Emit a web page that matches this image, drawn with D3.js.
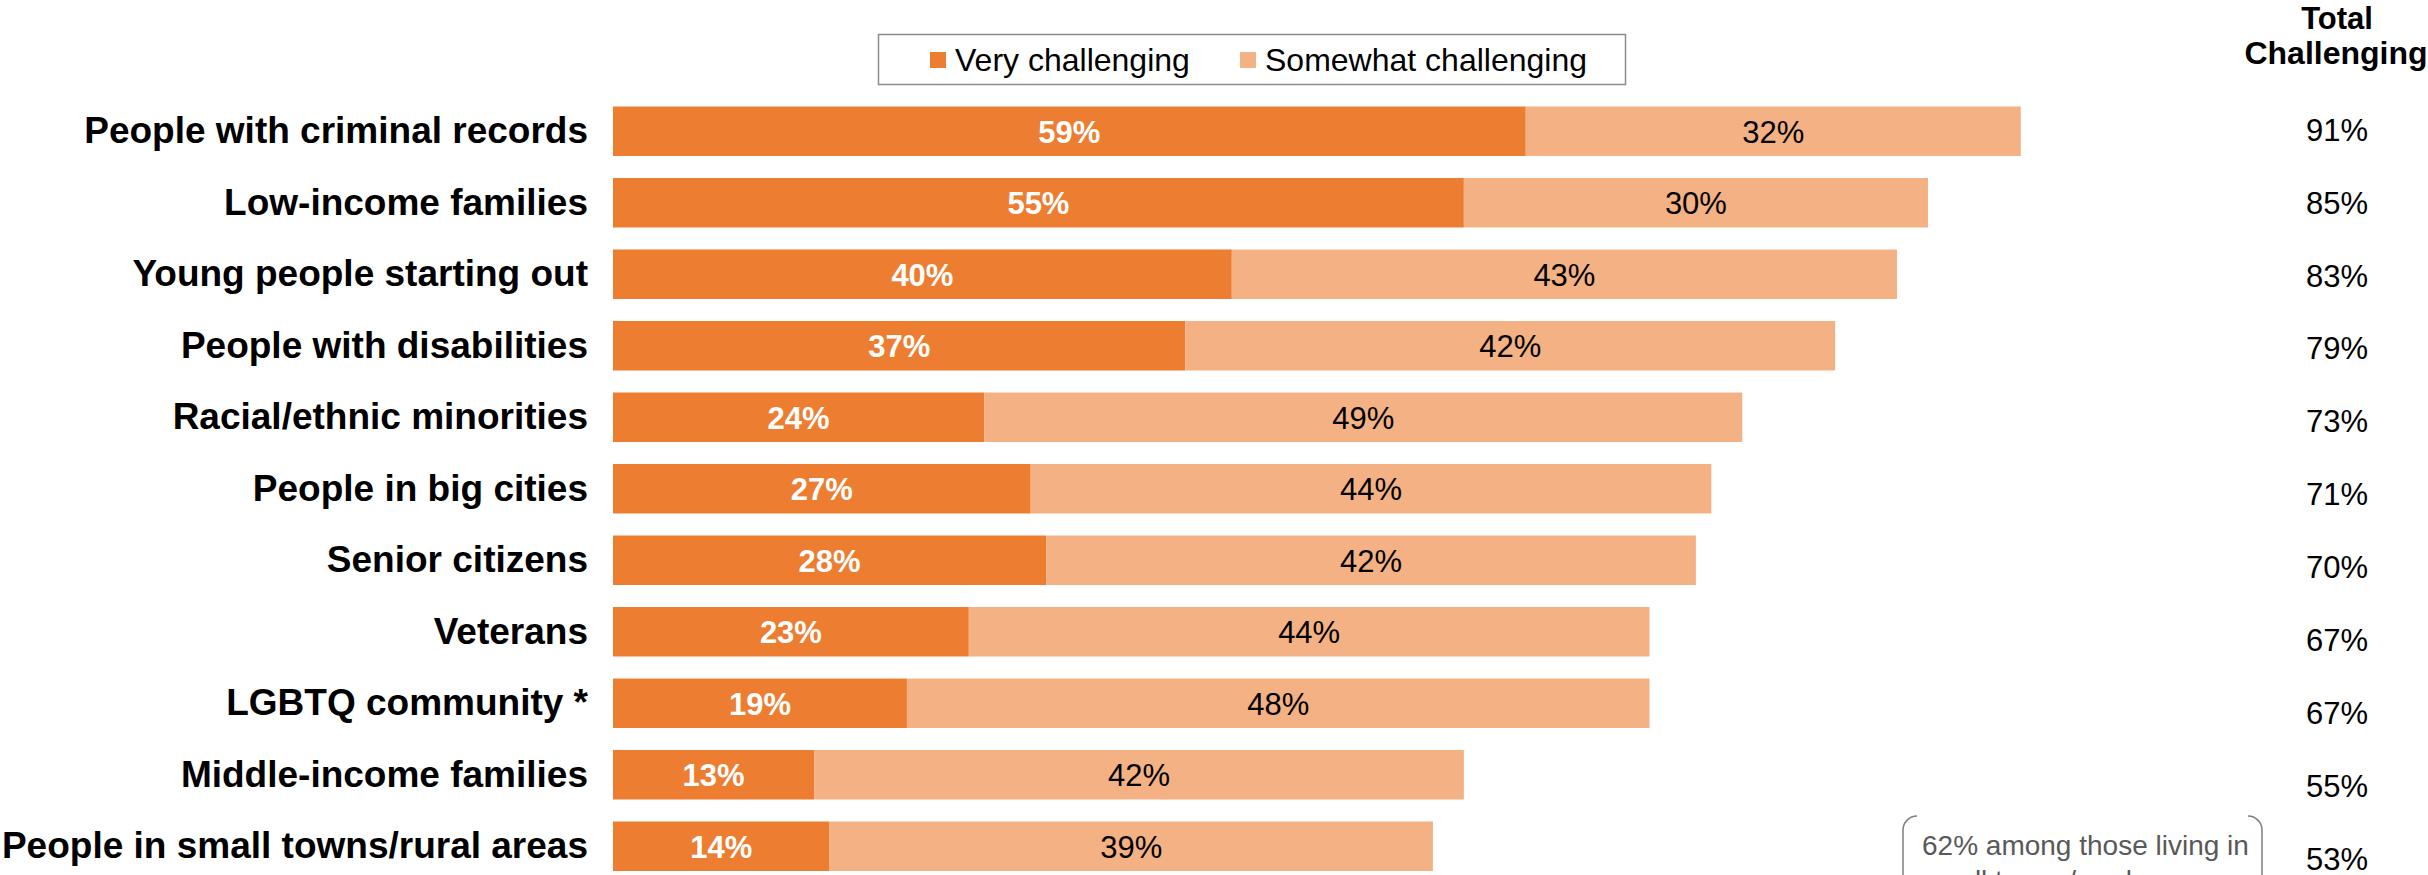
<!DOCTYPE html>
<html>
<head>
<meta charset="utf-8">
<script src="https://cdn.jsdelivr.net/npm/d3@7"></script>
<style>
    body { margin: 0; background: #ffffff; }
    svg { display: block; font-family: Arial, "Liberation Sans", sans-serif; }
</style>
</head>
<body>
<svg id="vis" width="2428" height="875"></svg>
<script>
// data
let categories = [
    "People with criminal records",
    "Low-income families",
    "Young people starting out",
    "People with disabilities",
    "Racial/ethnic minorities",
    "People in big cities",
    "Senior citizens",
    "Veterans",
    "LGBTQ community *",
    "Middle-income families",
    "People in small towns/rural areas"
];
let veryValues     = [59, 55, 40, 37, 24, 27, 28, 23, 19, 13, 14];
let somewhatValues = [32, 30, 43, 42, 49, 44, 42, 44, 48, 42, 39];
let totalLabels    = ["91%", "85%", "83%", "79%", "73%", "71%", "70%", "67%", "67%", "55%", "53%"];
let seriesNames    = ["Very challenging", "Somewhat challenging"];
let noteLines      = ["62% among those living in", "small towns/rural areas"];

let colors = ["#ED7D31", "#F4B183"];

let drawChart = function() {
    let svg = d3.select("svg#vis");

    let rows = categories.map(function(c, i) {
        return { key: c, very: veryValues[i], somewhat: somewhatValues[i], total: totalLabels[i] };
    });

    // scales
    let xScale = d3.scaleLinear()
        .domain([0, 100])
        .range([613, 2160]);

    let yScale = d3.scaleBand()
        .domain(categories)
        .range([106.5, 871])
        .paddingInner(0.308)
        .paddingOuter(0);

    // the total column sits on slightly wider spacing than the bars
    let totalScale = d3.scalePoint()
        .domain(categories)
        .range([129.7, 858.7]);

    let plot = svg.append("g").attr("id", "plot");

    // very challenging segment
    plot.selectAll("rect.very")
        .data(rows)
        .enter().append("rect")
        .attr("class", "very")
        .attr("x", xScale(0))
        .attr("y", d => yScale(d.key))
        .attr("width", d => xScale(d.very) - xScale(0))
        .attr("height", yScale.bandwidth())
        .attr("fill", colors[0]);

    // somewhat challenging segment
    plot.selectAll("rect.somewhat")
        .data(rows)
        .enter().append("rect")
        .attr("class", "somewhat")
        .attr("x", d => xScale(d.very))
        .attr("y", d => yScale(d.key))
        .attr("width", d => xScale(d.very + d.somewhat) - xScale(d.very))
        .attr("height", yScale.bandwidth())
        .attr("fill", colors[1]);

    // labels inside bars
    plot.selectAll("text.very-label")
        .data(rows)
        .enter().append("text")
        .attr("class", "very-label")
        .attr("x", d => xScale(d.very / 2))
        .attr("y", d => yScale(d.key) + yScale.bandwidth() / 2 + 11.5)
        .attr("text-anchor", "middle")
        .style("font-size", "31px")
        .style("font-weight", "bold")
        .style("fill", "#ffffff")
        .text(d => d.very + "%");

    plot.selectAll("text.somewhat-label")
        .data(rows)
        .enter().append("text")
        .attr("class", "somewhat-label")
        .attr("x", d => xScale(d.very + d.somewhat / 2))
        .attr("y", d => yScale(d.key) + yScale.bandwidth() / 2 + 11.5)
        .attr("text-anchor", "middle")
        .style("font-size", "31px")
        .style("fill", "#000000")
        .text(d => d.somewhat + "%");

    // category axis, no line or ticks
    let yAxis = d3.axisLeft(yScale).tickSize(0).tickPadding(25);
    let yGroup = plot.append("g")
        .attr("id", "y-axis")
        .attr("transform", "translate(613,0)")
        .call(yAxis);
    yGroup.select(".domain").remove();
    yGroup.selectAll("text")
        .attr("dy", null)
        .attr("y", 12)
        .style("font-family", "Arial, 'Liberation Sans', sans-serif")
        .style("font-size", "37px")
        .style("font-weight", "bold")
        .style("fill", "#000000");

    // total challenging column
    svg.append("text")
        .attr("x", 2337)
        .attr("y", 29)
        .attr("text-anchor", "middle")
        .style("font-size", "31px")
        .style("font-weight", "bold")
        .text("Total");
    svg.append("text")
        .attr("x", 2336)
        .attr("y", 64)
        .attr("text-anchor", "middle")
        .style("font-size", "32px")
        .style("font-weight", "bold")
        .text("Challenging");

    svg.selectAll("text.total")
        .data(rows)
        .enter().append("text")
        .attr("class", "total")
        .attr("x", 2337)
        .attr("y", d => totalScale(d.key) + 11)
        .attr("text-anchor", "middle")
        .style("font-size", "31px")
        .style("fill", "#000000")
        .text(d => d.total);

    // legend
    let legend = svg.append("g").attr("id", "legend");
    legend.append("rect")
        .attr("x", 878.5)
        .attr("y", 34.5)
        .attr("width", 747)
        .attr("height", 50)
        .attr("fill", "#ffffff")
        .attr("stroke", "#8c8c8c")
        .attr("stroke-width", 1.5);

    let legendX = [930, 1240];
    seriesNames.forEach(function(name, i) {
        legend.append("rect")
            .attr("x", legendX[i])
            .attr("y", 52)
            .attr("width", 16)
            .attr("height", 16)
            .attr("fill", colors[i]);
        legend.append("text")
            .attr("x", legendX[i] + 25)
            .attr("y", 70.5)
            .style("font-size", "32px")
            .style("fill", "#000000")
            .text(name);
    });

    // callout note near the last row
    let r = 14;
    let note = svg.append("g").attr("id", "note");
    note.append("path")
        .attr("d", "M1903,900 L1903," + (816 + r) + " A" + r + "," + r + " 0 0 1 " + (1903 + r) + ",816")
        .attr("fill", "none")
        .attr("stroke", "#7f7f7f")
        .attr("stroke-width", 1.5);
    note.append("path")
        .attr("d", "M" + (2262 - r) + ",816 A" + r + "," + r + " 0 0 1 2262," + (816 + r) + " L2262,900")
        .attr("fill", "none")
        .attr("stroke", "#7f7f7f")
        .attr("stroke-width", 1.5);

    note.selectAll("text")
        .data(noteLines)
        .enter().append("text")
        .attr("x", 1922)
        .attr("y", (d, i) => 855 + i * 35)
        .style("font-size", "28px")
        .style("fill", "#595959")
        .text(d => d);
};

drawChart();
</script>
</body>
</html>
